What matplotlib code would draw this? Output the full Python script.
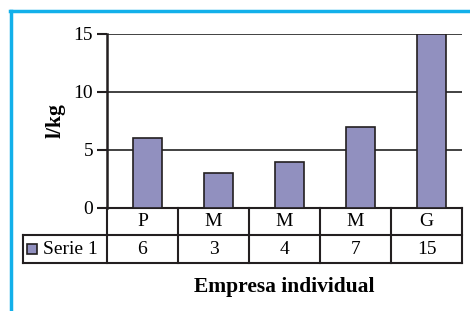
import matplotlib.pyplot as plt
import matplotlib.transforms as mtransforms
from matplotlib.lines import Line2D
from matplotlib.patches import Rectangle

categories = ["P", "M", "M", "M", "G"]
values = [6, 3, 4, 7, 15]
series_name = "Serie 1"
y_ticks = [0, 5, 10, 15]
x_title = "Empresa individual"
y_title = "l/kg"

bar_color = "#9190bf"
edge_color = "#231f20"
frame_color = "#12b0ea"

plt.rcParams["font.family"] = ["Liberation Serif", "DejaVu Serif"]

W, H = 470, 311
fig = plt.figure(figsize=(W / 100, H / 100), dpi=100)

# plot area in pixels
left, top, right, bottom = 107, 34, 462, 208
ax = fig.add_axes([left / W, 1 - bottom / H, (right - left) / W, (bottom - top) / H])

x = list(range(len(categories)))
ax.bar([i + 0.07 for i in x], values, width=0.4, color=bar_color,
       edgecolor=edge_color, linewidth=1.2, zorder=3)

ax.set_xlim(-0.5, len(categories) - 0.5)
ax.set_ylim(0, 15)
ax.set_yticks(y_ticks)
ax.tick_params(axis="y", labelsize=14, length=7, width=1.5, color=edge_color, pad=3)
ax.set_xticks([])
ax.yaxis.grid(True, color="#333333", linewidth=1.3, zorder=0)
for s in ["top", "right", "bottom"]:
    ax.spines[s].set_visible(False)
ax.spines["left"].set_linewidth(1.8)
ax.spines["left"].set_color(edge_color)

ax.set_ylabel(y_title, fontsize=15.5, fontweight="bold", labelpad=6)

# data table under the axis
trans = mtransforms.blended_transform_factory(ax.transData, ax.transAxes)
ph = bottom - top
r1 = -27 / ph
r2 = -55 / ph
label_left = (23 - left) / (right - left)
lw = 1.5

def hline(x0, x1, y, transform):
    ax.add_line(Line2D([x0, x1], [y, y], transform=transform, color=edge_color,
                       linewidth=lw, clip_on=False))

def vline(xx, y0, y1, transform):
    ax.add_line(Line2D([xx, xx], [y0, y1], transform=transform, color=edge_color,
                       linewidth=lw, clip_on=False))

hline(0, 1, 0, ax.transAxes)
hline(label_left, 1, r1, ax.transAxes)
hline(label_left, 1, r2, ax.transAxes)
vline(label_left, r1, r2, ax.transAxes)
for i in range(len(categories) + 1):
    vline(i - 0.5, 0, r2, trans)

for i, (c, v) in enumerate(zip(categories, values)):
    ax.text(i, r1 / 2, c, transform=trans, ha="center", va="center", fontsize=14)
    ax.text(i, (r1 + r2) / 2, str(v), transform=trans, ha="center", va="center", fontsize=14)

ax.add_patch(Rectangle((27 / W, 1 - 254 / H), 10 / W, 10 / H, transform=fig.transFigure,
                       facecolor=bar_color, edgecolor=edge_color, linewidth=1.2, clip_on=False))
fig.text(43 / W, 1 - 249 / H, series_name, ha="left", va="center", fontsize=14)

fig.text((left + right) / 2 / W, 1 - 287 / H, x_title, ha="center", va="center",
         fontsize=15.5, fontweight="bold")

# cyan frame
fig.add_artist(Line2D([10 / W, 1], [1 - 11 / H, 1 - 11 / H], transform=fig.transFigure,
                      color=frame_color, linewidth=2.5))
fig.add_artist(Line2D([11 / W, 11 / W], [0, 1 - 11 / H], transform=fig.transFigure,
                      color=frame_color, linewidth=2.5))

fig.savefig("out.png", dpi=100)
